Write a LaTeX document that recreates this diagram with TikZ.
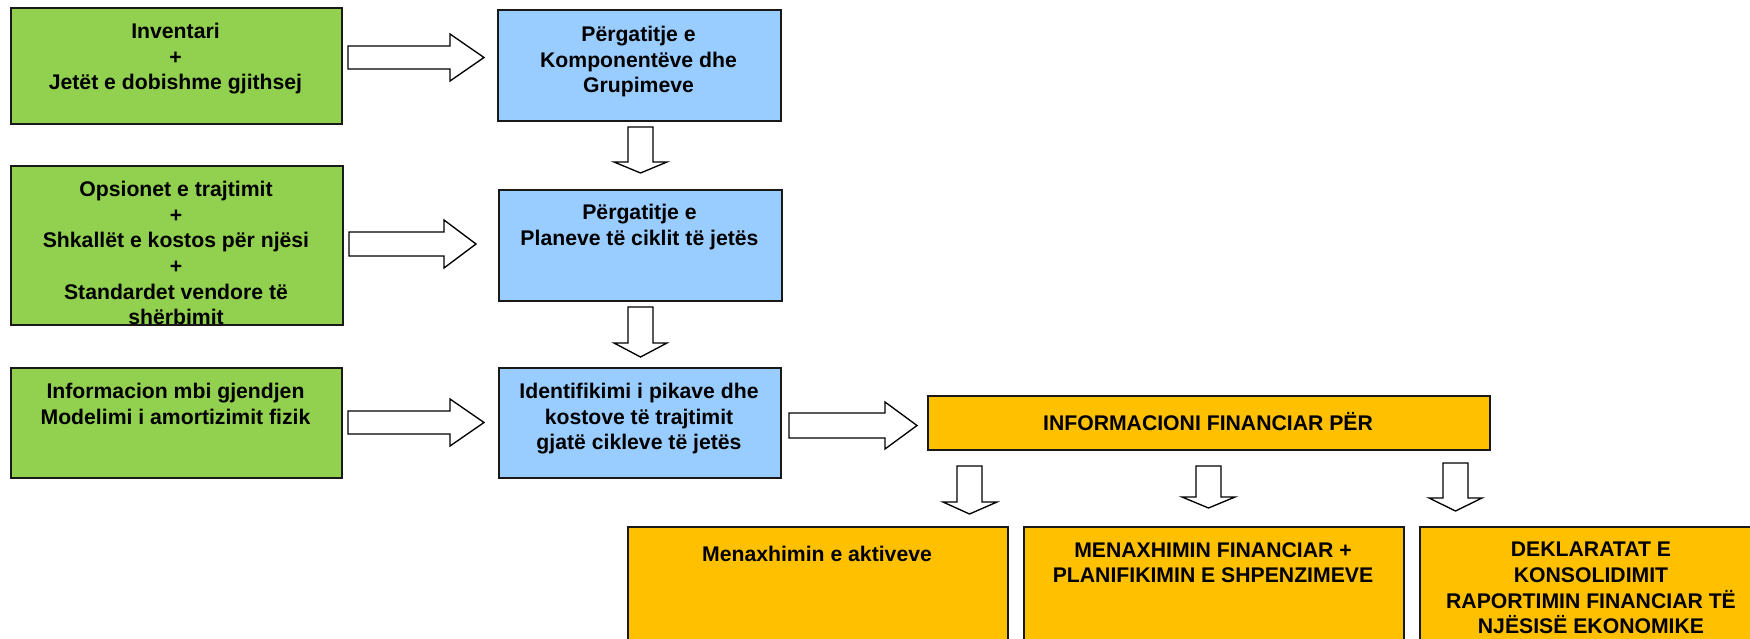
\documentclass[tikz,border=0pt]{standalone}
\usepackage{fontspec}
\setmainfont{Liberation Sans}
\usepackage{tikz}

\definecolor{boxgreen}{RGB}{146,208,80}
\definecolor{boxblue}{RGB}{153,204,255}
\definecolor{boxorange}{RGB}{255,192,0}

\begin{document}
\begin{tikzpicture}[x=0.75pt,y=0.75pt,yscale=-1,xscale=1,
    boxsize/.style 2 args={minimum width=#1*0.75pt,minimum height=#2*0.75pt},
    panel/.style={draw=black!90,line width=1.3pt,inner sep=0pt,anchor=north west},
    gbox/.style={panel,fill=boxgreen},
    bbox/.style={panel,fill=boxblue},
    obox/.style={panel,fill=boxorange},
    txt/.style={anchor=north,inner sep=0pt,align=center,
      font=\fontsize{15.9}{19.2}\selectfont\bfseries,execute at begin node=\strut},
    barrow/.style={draw=black,fill=white,line width=1pt,line join=miter}]
\clip (0,0) rectangle (1750,639);

%Shape: Rectangle (inputs)
\node[gbox,boxsize={331}{116}] (inv) at (10,7) {};
\node[gbox,boxsize={332}{159}] (ops) at (10,165) {};
\node[gbox,boxsize={331}{110}] (info) at (10,367) {};

%Shape: Rectangle (steps)
\node[bbox,boxsize={283}{111}] (komp) at (497,9) {};
\node[bbox,boxsize={283}{111}] (plan) at (498,189) {};
\node[bbox,boxsize={282}{110}] (ident) at (498,367) {};

%Shape: Rectangle (outputs)
\node[obox,boxsize={562}{54}] (fin) at (927,395) {};
\node[obox,boxsize={380}{180}] (akt) at (627,526) {};
\node[obox,boxsize={380}{180}] (menfin) at (1023,526) {};
\node[obox,boxsize={344}{180}] (dekl) at (1419,526) {};

%Right Arrow
\draw[barrow] (348,46) -- (450,46) -- (450,34) -- (484,57.5) -- (450,81) -- (450,69) -- (348,69) -- cycle ;
%Right Arrow
\draw[barrow] (349,232) -- (444,232) -- (444,220) -- (476,244) -- (444,268) -- (444,256) -- (349,256) -- cycle ;
%Right Arrow
\draw[barrow] (348,411) -- (450,411) -- (450,399) -- (484,422.5) -- (450,446) -- (450,434) -- (348,434) -- cycle ;
%Right Arrow
\draw[barrow] (789,413) -- (885,413) -- (885,402) -- (917,425.5) -- (885,449) -- (885,438) -- (789,438) -- cycle ;

%Down Arrow
\draw[barrow] (628,127) -- (628,162) -- (614,162) -- (640.5,173) -- (667,162) -- (653,162) -- (653,127) -- cycle ;
%Down Arrow
\draw[barrow] (628,307) -- (628,343) -- (614,343) -- (640.5,357) -- (667,343) -- (653,343) -- (653,307) -- cycle ;
%Down Arrow
\draw[barrow] (957,466) -- (957,502) -- (943,502) -- (969.5,514) -- (997,502) -- (982,502) -- (982,466) -- cycle ;
%Down Arrow
\draw[barrow] (1196,466) -- (1196,497) -- (1182,497) -- (1208.5,508) -- (1235,497) -- (1221,497) -- (1221,466) -- cycle ;
%Down Arrow
\draw[barrow] (1443,463) -- (1443,498) -- (1429,498) -- (1455.5,511) -- (1482,498) -- (1468,498) -- (1468,463) -- cycle ;

% Text Node
\node[txt] (inv-t) at (175.5,23) {Inventari\\+\\Jetët e dobishme gjithsej};
% Text Node
\node[txt] (ops-t) at (176,181) {Opsionet e trajtimit\\+\\Shkallët e kostos për njësi\\+\\Standardet vendore të\\shërbimit};
% Text Node
\node[txt] (info-t) at (175.5,383) {Informacion mbi gjendjen\\Modelimi i amortizimit fizik};
% Text Node
\node[txt] (komp-t) at (638.5,26) {Përgatitje e\\Komponentëve dhe\\Grupimeve};
% Text Node
\node[txt] (plan-t) at (639.5,204) {Përgatitje e\\Planeve të ciklit të jetës};
% Text Node
\node[txt] (ident-t) at (639,383) {Identifikimi i pikave dhe\\kostove të trajtimit\\gjatë cikleve të jetës};
% Text Node
\node[txt] (fin-t) at (1208,412) {INFORMACIONI FINANCIAR PËR};
% Text Node
\node[txt] (akt-t) at (817,543) {Menaxhimin e aktiveve};
% Text Node
\node[txt] (menfin-t) at (1213,542) {MENAXHIMIN FINANCIAR +\\PLANIFIKIMIN E SHPENZIMEVE};
% Text Node
\node[txt] (dekl-t) at (1591,542) {DEKLARATAT E\\KONSOLIDIMIT\\RAPORTIMIN FINANCIAR TË\\NJËSISË EKONOMIKE};

\end{tikzpicture}
\end{document}
